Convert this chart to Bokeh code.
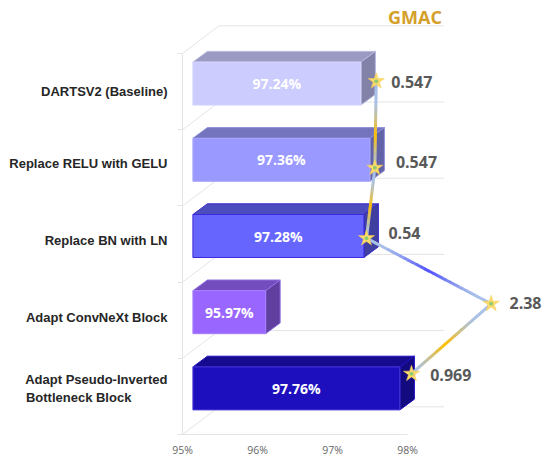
import numpy as np
from bokeh.plotting import figure
from bokeh.core.properties import value
from bokeh.models import ColumnDataSource, LabelSet, Label, FixedTicker
from bokeh.embed import file_html
from bokeh.resources import INLINE

# ---- data ----
categories = ["DARTSV2 (Baseline)", "Replace RELU with GELU", "Replace BN with LN",
              "Adapt ConvNeXt Block", "Adapt Pseudo-Inverted\nBottleneck Block"]
accuracy = [97.24, 97.36, 97.28, 95.97, 97.76]
accuracy_text = ["97.24%", "97.36%", "97.28%", "95.97%", "97.76%"]
gmac_text = ["0.547", "0.547", "0.54", "2.38", "0.969"]
star_x = [97.583, 97.565, 97.453, 99.116, 98.053]
star_y = [4.636, 3.50, 2.576, 1.715, 0.797]
x_ticks = [95, 96, 97, 98]
x_tick_labels = ["95%", "96%", "97%", "98%"]

# ---- style ----
front = ["#CCCCFF", "#9999FF", "#6666FF", "#9966FF", "#1E0FBE"]
top = ["#9A9AC2", "#7474BE", "#4C4CBE", "#734CBE", "#160B8E"]
side = ["#8282A8", "#6262A6", "#3F3FA0", "#603FA0", "#130A80"]
edge = ["#D6D6FF", "#A6A6FF", "#3A2AE0", "#A680FF", "#4A3AD8"]
tops_edge = ["#B8B8E0", "#8E8ED8", "#3A2AC8", "#9070E0", "#1E0FBE"]
mids = ["#FFC000", "#FFC000", "#5050FF", "#FFC000"]
ENDC = "#A9C1E8"
GRID = "#E4E4E4"

PX = 75.0; PY = 76.2          # pixels per x / y unit
SHIFT_X = 10.4 / PX           # bars stand inside the 3-D box
SHIFT_Y = 8.0 / PY
DEPTH_X = 14.5 / PX; DEPTH_Y = 10.7 / PY
WALL_X = 36.7 / PX; WALL_Y = 27.7 / PY
BAR_H = 43.0 / PY
W, H, LEFT, BOTTOM = 543, 456, 182, 22

p = figure(width=W, height=H, frame_width=W - LEFT, frame_height=H - BOTTOM,
           output_backend="svg", toolbar_location=None,
           x_range=(95, 95 + (W - LEFT) / PX), y_range=(0, (H - BOTTOM) / PY),
           min_border_left=LEFT, min_border_right=0, min_border_top=0, min_border_bottom=BOTTOM,
           outline_line_color=None, background_fill_color="white", border_fill_color="white")
p.grid.visible = False

xa = p.xaxis[0]
xa.ticker = FixedTicker(ticks=x_ticks)
xa.major_label_overrides = dict(zip(x_ticks, x_tick_labels))
xa.bounds = (x_ticks[0], x_ticks[-1])
xa.axis_line_color = GRID
xa.major_tick_line_color = None
xa.major_tick_in = 0
xa.major_tick_out = 0
xa.minor_tick_line_color = None
xa.minor_tick_out = 0
xa.major_label_text_font = "Open Sans"
xa.major_label_text_font_size = "10.5px"
xa.major_label_text_color = "#666666"
xa.major_label_standoff = 8

# y axis: category names at their label heights, the 3-D box ticks as minor ticks
n = len(categories)
yt = list(range(n + 1))
cat_y = [4.495, 3.555, 2.55, 1.535, 0.60]
ya = p.yaxis[0]
ya.ticker = FixedTicker(ticks=cat_y, minor_ticks=yt)
# the second line of a two-line name sits flush with the first line's left edge
shown = [c.replace("\n", "\n") + ("\u00a0" * 10 if "\n" in c else "") for c in categories]
ya.major_label_overrides = dict(zip(cat_y, shown))
ya.bounds = (0, n)
ya.axis_line_color = GRID
ya.major_tick_line_color = None
ya.major_tick_in = 0
ya.major_tick_out = 0
ya.minor_tick_line_color = GRID
ya.minor_tick_in = 0
ya.minor_tick_out = 5
ya.major_label_standoff = 10
ya.major_label_text_font = "Liberation Sans"
ya.major_label_text_font_style = "bold"
ya.major_label_text_font_size = "13px"
ya.major_label_text_color = "#262626"

# 3-D box: floor/side diagonals and back wall lines
for i in yt:
    p.line([95, 95 + WALL_X], [i, i + WALL_Y], line_color=GRID, line_width=1)
    p.line([95 + WALL_X, 98 + WALL_X], [i + WALL_Y, i + WALL_Y], line_color=GRID, line_width=1)

# bars
pos = [n - 1 - i for i in range(n)]
for i, v in enumerate(accuracy):
    x0 = 95 + SHIFT_X; x1 = v + SHIFT_X
    yc = pos[i] + 0.5 + SHIFT_Y
    y0 = yc - BAR_H / 2; y1 = yc + BAR_H / 2
    p.patch([x0, x0 + DEPTH_X, x1 + DEPTH_X, x1], [y1, y1 + DEPTH_Y, y1 + DEPTH_Y, y1],
            fill_color=top[i], line_color=tops_edge[i], line_width=1)
    p.patch([x1, x1 + DEPTH_X, x1 + DEPTH_X, x1], [y0, y0 + DEPTH_Y, y1 + DEPTH_Y, y1],
            fill_color=side[i], line_color=tops_edge[i], line_width=1)
    p.quad(left=[x0], right=[x1], bottom=[y0], top=[y1], fill_color=front[i],
           line_color=edge[i], line_width=1)

# gradient connector
def hexrgb(h):
    return np.array([int(h[k:k + 2], 16) for k in (1, 3, 5)], float)

xs, ys, cs = [], [], []
STEPS = 30
centres = [0.62, 0.55, 0.5, 0.58]
for s in range(len(star_x) - 1):
    a, b = hexrgb(ENDC), hexrgb(mids[s])
    for k in range(STEPS):
        t0, t1 = k / STEPS, (k + 1.15) / STEPS
        t1 = min(t1, 1)
        xs.append([star_x[s] + (star_x[s + 1] - star_x[s]) * t0, star_x[s] + (star_x[s + 1] - star_x[s]) * t1])
        ys.append([star_y[s] + (star_y[s + 1] - star_y[s]) * t0, star_y[s] + (star_y[s + 1] - star_y[s]) * t1])
        w = max(1 - abs((k + 0.5) / STEPS - centres[s]) / 0.38, 0) ** 1.3
        c = a + (b - a) * w
        cs.append("#%02X%02X%02X" % tuple(int(round(q)) for q in c))
p.multi_line(xs, ys, line_color=cs, line_width=3)

# stars
p.scatter(star_x, star_y, marker="star", size=17, fill_color="#FFDB6B", line_color="#F2C94C", line_width=0.5)
p.scatter(star_x, star_y, marker="circle", size=4, fill_color="#8FCB6F", line_color=None)

# value labels in the bars
lab_src = ColumnDataSource(dict(
    x=[(95 + v) / 2 + SHIFT_X for v in accuracy],
    y=[pos[i] + 0.5 + SHIFT_Y for i in range(n)],
    t=accuracy_text))
p.add_layout(LabelSet(x="x", y="y", text="t", source=lab_src, text_align="center", text_baseline="middle",
                      text_color="white", text_font=value("Open Sans"), text_font_style="bold",
                      text_font_size="14px"))

# GMAC labels (offset from their stars)
gmac_dx = [15, 21, 22, 18.3, 18.7]
gmac_dy = [-0.6, 5.5, 5, 0.6, -1.7]
g_src = ColumnDataSource(dict(x=star_x, y=star_y, t=gmac_text, dx=gmac_dx, dy=gmac_dy))
p.add_layout(LabelSet(x="x", y="y", text="t", source=g_src, x_offset="dx", y_offset="dy",
                      text_align="left", text_baseline="middle", text_color="#595959",
                      text_font=value("Open Sans"), text_font_style="bold", text_font_size="16px"))

p.add_layout(Label(x=98.489, y=(H - BOTTOM) / PY, text="GMAC", text_align="right", text_baseline="middle",
                   y_offset=-16.7, x_offset=-2.3, text_color="#D4A02A", text_font="Open Sans",
                   text_font_style="bold", text_font_size="18px"))

open("out.html", "w").write(file_html(p, INLINE))
